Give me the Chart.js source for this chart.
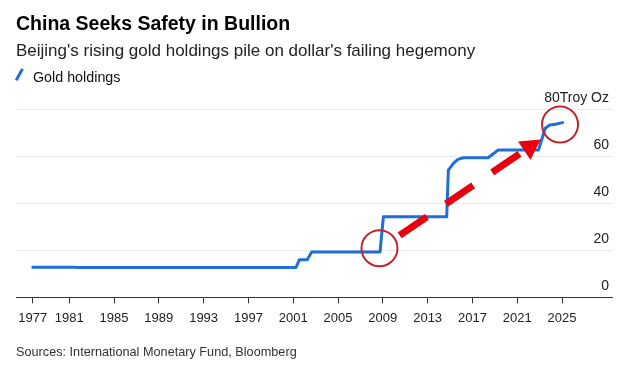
<!DOCTYPE html>
<html><head><meta charset="utf-8">
<script src="https://cdn.jsdelivr.net/npm/chart.js@4/dist/chart.umd.min.js"></script>
<style>
html,body{margin:0;padding:0;background:#fff;}
#wrap{position:relative;width:624px;height:375px;overflow:hidden;font-family:"Liberation Sans",Arial,sans-serif;background:#fff;}
#c{position:absolute;left:0;top:0;}
.t{position:absolute;white-space:nowrap;line-height:1;}
#icon{position:absolute;left:17.8px;top:67.5px;width:2.6px;height:12.5px;background:#1e6fd9;transform:rotate(29deg);}
</style></head><body>
<div id="wrap">
<canvas id="c" width="624" height="375"></canvas>
<div class="t" style="left:16px;top:14.2px;font-size:19.5px;font-weight:bold;color:#000">China Seeks Safety in Bullion</div>
<div class="t" style="left:16px;top:41.6px;font-size:17px;color:#222">Beijing's rising gold holdings pile on dollar's failing hegemony</div>
<div id="icon"></div>
<div class="t" style="left:33px;top:70px;font-size:14.3px;color:#111">Gold holdings</div>
<div class="t" style="left:16px;top:346px;font-size:12.7px;color:#333">Sources: International Monetary Fund, Bloomberg</div>
</div>
<script>
// Data (years as fractional years, holdings in million troy ounces)
const years    = [1977.75, 1981.5, 1981.7, 2001.25, 2001.55, 2002.25, 2002.65, 2008.75, 2009.05, 2014.7, 2014.85, 2015.3, 2015.7, 2016.2, 2018.4, 2019.3, 2022.9, 2023.5, 2023.9, 2024.4, 2025.05];
const holdings = [12.8,    12.8,   12.7,   12.7,    16.0,    16.0,    19.3,    19.3,    34.2,    34.2,   54.0,    56.9,   58.6,   59.3,   59.3,   62.6,   62.6,   71.8,   73.2,   73.5,   74.2];
const xTickValues = [1977.75, 1981, 1985, 1989, 1993, 1997, 2001, 2005, 2009, 2013, 2017, 2021, 2025];
const xTickLabels = ['1977','1981','1985','1989','1993','1997','2001','2005','2009','2013','2017','2021','2025'];
const yTicks = [0, 20, 40, 60, 80];
const yUnit = 'Troy Oz';
// Annotation anchors in data coordinates
const circleMarks = [[2008.7, 20.85], [2024.82, 73.4]];
const arrowFrom = [2010.5, 26.3];
const arrowTo = [2023.1, 67.1];

const FONT = '"Liberation Sans", Arial, sans-serif';

const yLabelPlugin = {
  id: 'yLabels',
  afterDraw(chart) {
    const {ctx, chartArea, scales: {y}} = chart;
    ctx.save();
    ctx.font = '14px ' + FONT;
    ctx.fillStyle = '#222';
    ctx.textAlign = 'right';
    ctx.textBaseline = 'alphabetic';
    yTicks.forEach(v => {
      const py = y.getPixelForValue(v);
      const txt = v === y.max ? v + yUnit : String(v);
      ctx.fillText(txt, chartArea.right - 3, py - 7);
    });
    ctx.restore();
  }
};

const annotPlugin = {
  id: 'annot',
  afterDatasetsDraw(chart) {
    const {ctx, scales: {x, y}} = chart;
    ctx.save();
    // circles
    ctx.strokeStyle = '#c0262c';
    ctx.lineWidth = 2;
    circleMarks.forEach(([cx, cy]) => {
      ctx.beginPath();
      ctx.arc(x.getPixelForValue(cx), y.getPixelForValue(cy), 18, 0, Math.PI * 2);
      ctx.stroke();
    });
    // dashed arrow
    const x0 = x.getPixelForValue(arrowFrom[0]), y0 = y.getPixelForValue(arrowFrom[1]);
    const x1 = x.getPixelForValue(arrowTo[0]), y1 = y.getPixelForValue(arrowTo[1]);
    const dx = x1 - x0, dy = y1 - y0, L = Math.hypot(dx, dy);
    const ux = dx / L, uy = dy / L;
    const head = 20, half = 11;
    const bx = x1 - ux * head, by = y1 - uy * head;
    ctx.strokeStyle = '#e8000e';
    ctx.fillStyle = '#e8000e';
    ctx.lineWidth = 7;
    ctx.lineCap = 'butt';
    ctx.setLineDash([33, 23]);
    ctx.beginPath();
    ctx.moveTo(x0, y0);
    ctx.lineTo(x1 - ux * (head + 5), y1 - uy * (head + 5));
    ctx.stroke();
    ctx.setLineDash([]);
    ctx.beginPath();
    ctx.moveTo(x1, y1);
    ctx.lineTo(bx - uy * half, by + ux * half);
    ctx.lineTo(bx + uy * half, by - ux * half);
    ctx.closePath();
    ctx.fill();
    ctx.restore();
  }
};

new Chart(document.getElementById('c'), {
  type: 'line',
  data: {
    datasets: [{
      label: 'Gold holdings',
      data: years.map((yr, i) => ({x: yr, y: holdings[i]})),
      borderColor: '#1e6fd9',
      borderWidth: 3,
      pointRadius: 0,
      tension: 0,
      borderJoinStyle: 'round',
      borderCapStyle: 'round',
      fill: false
    }]
  },
  options: {
    responsive: false,
    animation: false,
    devicePixelRatio: 1,
    layout: {padding: {top: 109, left: 16, right: 12, bottom: 42}},
    plugins: {legend: {display: false}, tooltip: {enabled: false}, title: {display: false}},
    scales: {
      x: {
        type: 'linear',
        min: 1976.25,
        max: 2029.46,
        afterBuildTicks(s) { s.ticks = xTickValues.map(v => ({value: v})); },
        ticks: {
          autoSkip: false, maxRotation: 0, padding: 7,
          color: '#222', font: {size: 13, family: FONT},
          callback: (v, i) => xTickLabels[i]
        },
        grid: {drawOnChartArea: false, drawTicks: true, tickLength: 6, tickColor: '#333', lineWidth: 1},
        border: {display: true, color: '#333', width: 1}
      },
      y: {
        position: 'right',
        min: 0, max: 80,
        afterBuildTicks(s) { s.ticks = yTicks.map(v => ({value: v})); },
        ticks: {display: false},
        grid: {color: '#e6e6e6', drawTicks: false, lineWidth: 1},
        border: {display: false}
      }
    }
  },
  plugins: [yLabelPlugin, annotPlugin]
});
</script>
</body></html>
